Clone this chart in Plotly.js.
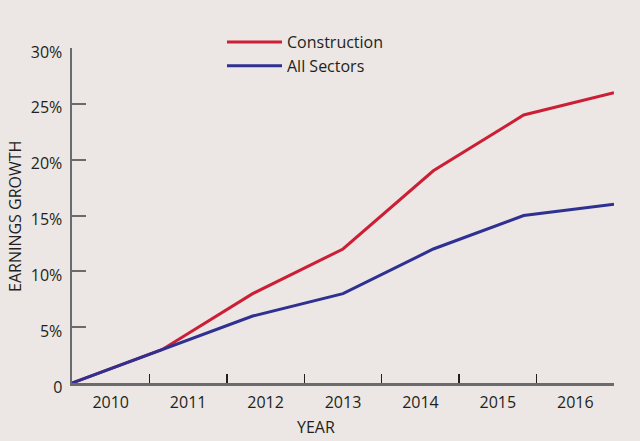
<!DOCTYPE html>
<html><head><meta charset="utf-8">
<script src="https://cdn.plot.ly/plotly-3.0.1.min.js"></script>
<style>html,body{margin:0;padding:0;background:#ece7e4;}</style>
</head><body>
<div id="chart" style="width:640px;height:441px;"></div>
<script>
const years = ["2010","2011","2012","2013","2014","2015","2016"];
const construction = [0, 3, 8, 12, 19, 24, 26];
const allSectors = [0, 3, 6, 8, 12, 15, 16];
const yTickVals = [0, 5, 10, 15, 20, 25, 30];
const yTickText = ["0", "5%", "10%", "15%", "20%", "25%", "30%"];

const idx = years.map((_, i) => i);
const font = {family: "Open Sans, sans-serif", size: 16, color: "#231f20"};
const axisGray = "#6b6b6e";

const traces = [
  {x: idx, y: construction, name: "Construction", type: "scatter", mode: "lines",
   line: {color: "#cc1f36", width: 3}, xaxis: "x", yaxis: "y"},
  {x: idx, y: allSectors, name: "All Sectors", type: "scatter", mode: "lines",
   line: {color: "#2e3192", width: 3}, xaxis: "x", yaxis: "y"}
];

const nBins = years.length;
const L = 72, R = 26, T = 48, B = 58;
const pw = 640 - L - R, ph = 441 - T - B;
const layout = {
  width: 640, height: 441,
  margin: {l: L, r: R, t: T, b: B, autoexpand: false},
  paper_bgcolor: "#ece7e4", plot_bgcolor: "#ece7e4",
  font: font,
  showlegend: true,
  legend: {x: (222 - L) / pw, y: (441 - B - 25) / ph,
           xanchor: "left", yanchor: "top", bgcolor: "rgba(0,0,0,0)",
           font: font, tracegroupgap: 0, itemwidth: 55},
  xaxis: {range: [0, nBins - 1], visible: false, fixedrange: true},
  xaxis2: {overlaying: "x", range: [0, nBins], tickmode: "array",
           tickvals: years.map((_, i) => i + 0.5), ticktext: years,
           ticks: "", showgrid: false, zeroline: false,
           showline: true, linecolor: axisGray, linewidth: 2.5,
           anchor: "y", side: "bottom", ticklabelstandoff: 3, tickfont: font},
  xaxis3: {overlaying: "x", range: [0, nBins], tickmode: "array",
           tickvals: years.map((_, i) => i + 1), showticklabels: false,
           ticks: "inside", ticklen: 9, tickwidth: 1.5, tickcolor: "#231f20",
           showgrid: false, zeroline: false, showline: false, anchor: "y", side: "bottom"},
  yaxis: {range: [0, 30], tickmode: "array", tickvals: yTickVals, ticktext: yTickText,
          ticks: "inside", ticklen: 14, tickwidth: 2, tickcolor: axisGray,
          showline: true, linecolor: axisGray, linewidth: 2.5,
          showgrid: false, zeroline: false, tickfont: font, ticklabelshift: 4,
          ticklabelstandoff: 4},
  annotations: [
    {text: "YEAR", xref: "paper", yref: "paper", x: (316 - L) / pw, y: (441 - B - 427) / ph,
     xanchor: "center", yanchor: "middle", showarrow: false, font: font},
    {text: "EARNINGS GROWTH", xref: "paper", yref: "paper", x: (15 - L) / pw, y: (441 - B - 217) / ph,
     xanchor: "center", yanchor: "middle", showarrow: false, textangle: -90, font: font}
  ]
};

// dummy traces to make overlay axes render
traces.push({x: [0], y: [null], xaxis: "x2", yaxis: "y", showlegend: false, hoverinfo: "skip", type: "scatter", mode: "lines"});
traces.push({x: [0], y: [null], xaxis: "x3", yaxis: "y", showlegend: false, hoverinfo: "skip", type: "scatter", mode: "lines"});

Plotly.newPlot("chart", traces, layout, {displayModeBar: false, staticPlot: true});
</script>
</body></html>
